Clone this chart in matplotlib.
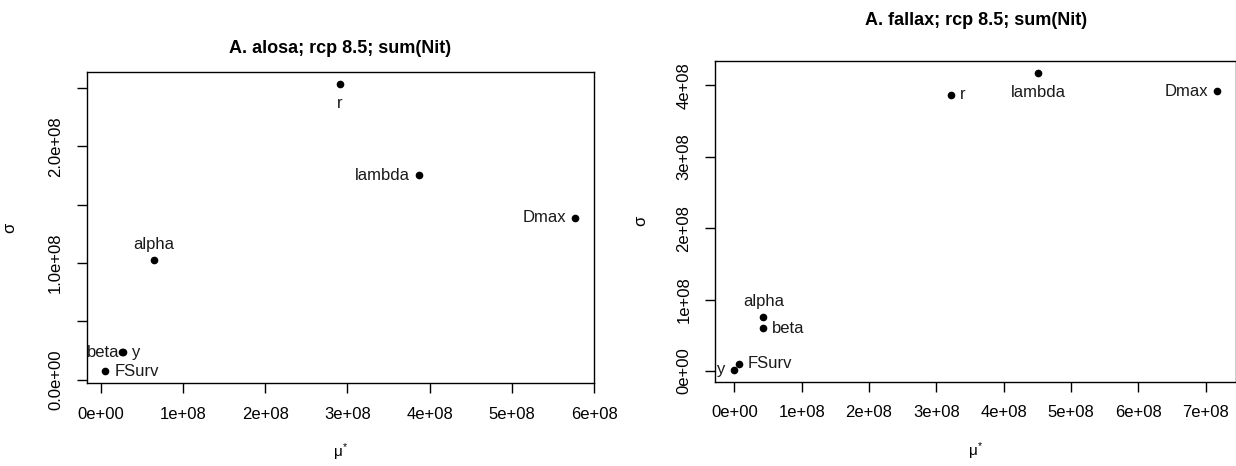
import matplotlib
matplotlib.use("Agg")
import matplotlib.pyplot as plt

plt.rcParams['font.family'] = ['Liberation Sans', 'DejaVu Sans']
plt.rcParams['mathtext.fontset'] = 'custom'
plt.rcParams['mathtext.rm'] = 'Liberation Sans'
plt.rcParams['mathtext.it'] = 'Liberation Sans'

# A. alosa
alosa_names = ['r', 'lambda', 'Dmax', 'alpha', 'beta', 'y', 'FSurv']
alosa_mu = [2.91e8, 3.87e8, 5.77e8, 0.65e8, 0.265e8, 0.268e8, 0.06e8]
alosa_sigma = [2.54e8, 1.755e8, 1.39e8, 1.03e8, 0.235e8, 0.235e8, 0.07e8]
alosa_yticks = [0, 0.5e8, 1.0e8, 1.5e8, 2.0e8, 2.5e8]
alosa_yticklabels = ['0.0e+00', '', '1.0e+08', '', '2.0e+08', '']
alosa_xticks = [0, 1e8, 2e8, 3e8, 4e8, 5e8, 6e8]
alosa_xticklabels = ['0e+00', '1e+08', '2e+08', '3e+08', '4e+08', '5e+08', '6e+08']

# A. fallax
fallax_names = ['r', 'lambda', 'Dmax', 'alpha', 'beta', 'y', 'FSurv']
fallax_mu = [3.22e8, 4.51e8, 7.17e8, 0.43e8, 0.43e8, 0.0, 0.065e8]
fallax_sigma = [3.87e8, 4.18e8, 3.92e8, 0.75e8, 0.6e8, 0.014e8, 0.1e8]
fallax_yticks = [0, 1e8, 2e8, 3e8, 4e8]
fallax_yticklabels = ['0e+00', '1e+08', '2e+08', '3e+08', '4e+08']
fallax_xticks = [0, 1e8, 2e8, 3e8, 4e8, 5e8, 6e8, 7e8]
fallax_xticklabels = ['0e+00', '1e+08', '2e+08', '3e+08', '4e+08', '5e+08', '6e+08', '7e+08']

# label placement, R style: 1 below, 2 left, 3 above, 4 right
alosa_pos = {'r': 1, 'lambda': 2, 'Dmax': 2, 'alpha': 3, 'beta': 2, 'y': 4, 'FSurv': 4}
fallax_pos = {'r': 4, 'lambda': 1, 'Dmax': 2, 'alpha': 3, 'beta': 4, 'y': 2, 'FSurv': 4}


def r_lim(v):
    lo, hi = min(v), max(v)
    d = (hi - lo) * 0.04
    return lo - d, hi + d


def panel(ax, title, mu, sigma, names, pos, xt, xtl, yt, ytl, ylpad, tpad):
    ax.plot(mu, sigma, 'o', color='black', ms=4.5, clip_on=False)
    offs = {1: ((0, -12), 'center', 'top'), 2: ((-9, 0), 'right', 'center'),
            3: ((0, 8), 'center', 'bottom'), 4: ((9, 0), 'left', 'center')}
    for n, x, y in zip(names, mu, sigma):
        (dx, dy), ha, va = offs[pos[n]]
        if n == 'beta' and pos[n] == 2:
            dx = -3
        ax.annotate(n, (x, y), xytext=(dx, dy), textcoords='offset pixels',
                    ha=ha, va=va, fontsize=12, color='#1a1a1a')
    ax.set_xlim(r_lim(mu))
    ax.set_ylim(r_lim(sigma))
    ax.set_xticks(xt)
    ax.set_xticklabels(xtl)
    ax.set_yticks(yt)
    ax.set_yticklabels(ytl, rotation=90, va='center')
    ax.tick_params(length=7, width=1, labelsize=12, pad=10, colors='black')
    for s in ax.spines.values():
        s.set_linewidth(1.0)
    ax.set_title(title, fontsize=13, fontweight='bold', pad=tpad)
    ax.set_xlabel(r'$\mu^{*}$', fontsize=11, labelpad=14)
    ax.set_ylabel('σ', fontsize=12, labelpad=ylpad)


fig = plt.figure(figsize=(12.36, 4.66), dpi=100)
ax1 = fig.add_axes([0.0701, 0.1781, 0.4107, 0.6674])
ax2 = fig.add_axes([0.5785, 0.1805, 0.4219, 0.6893])

panel(ax1, 'A. alosa; rcp 8.5; sum(Nit)', alosa_mu, alosa_sigma, alosa_names,
      alosa_pos, alosa_xticks, alosa_xticklabels, alosa_yticks, alosa_yticklabels, 22, 14)
panel(ax2, 'A. fallax; rcp 8.5; sum(Nit)', fallax_mu, fallax_sigma, fallax_names,
      fallax_pos, fallax_xticks, fallax_xticklabels, fallax_yticks, fallax_yticklabels, 20, 26)

fig.savefig('out.png', dpi=100)
